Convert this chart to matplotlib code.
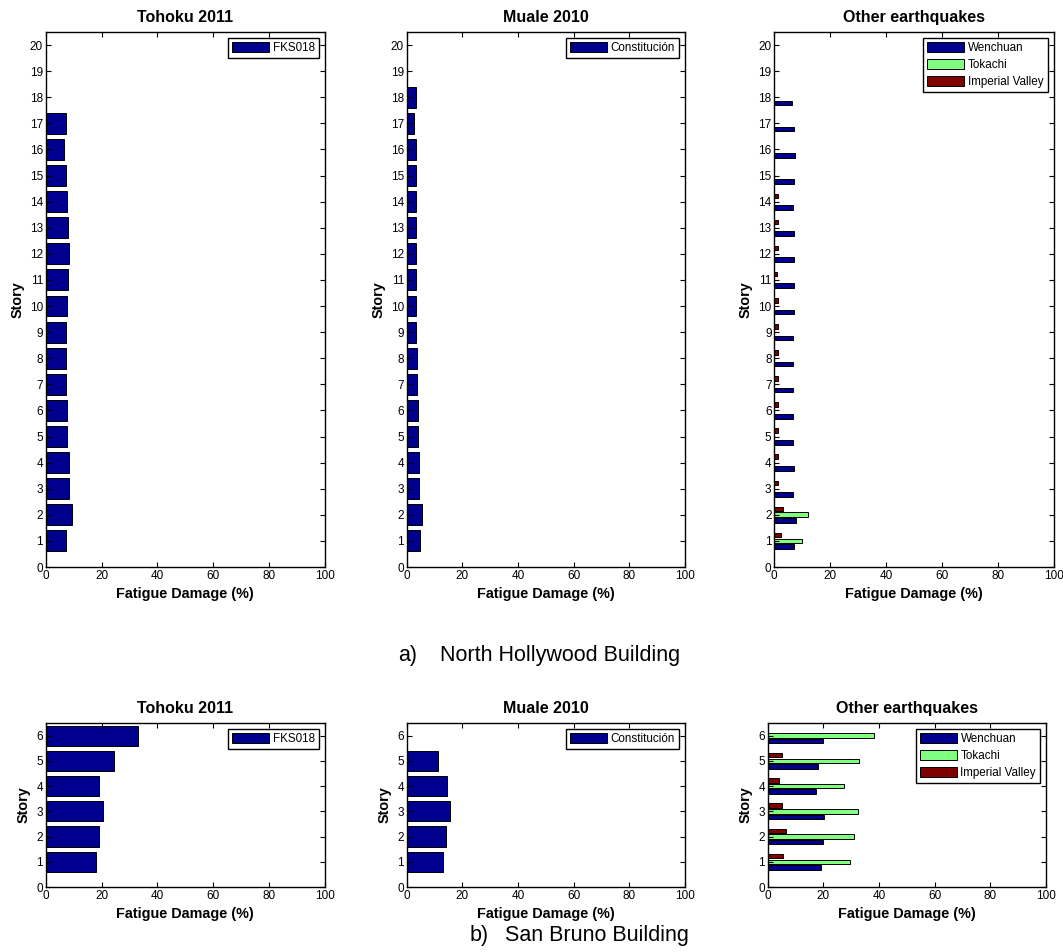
import numpy as np
import matplotlib
matplotlib.use("Agg")
import matplotlib.pyplot as plt

plt.rcParams['font.family'] = ['Liberation Sans', 'DejaVu Sans']

# fatigue damage per story (%), North Hollywood building (20 stories)
nh_stories = list(range(1, 21))
nh_tohoku = [7.4, 9.4, 8.3, 8.3, 7.7, 7.7, 7.4, 7.4, 7.4, 7.8,
             7.9, 8.3, 7.9, 7.5, 7.1, 6.7, 7.1, 0, 0, 0]
nh_maule = [4.6, 5.5, 4.3, 4.3, 4.0, 4.0, 3.6, 3.6, 3.2, 3.2,
            3.2, 3.2, 3.2, 3.2, 3.2, 3.2, 2.8, 3.2, 0, 0]
nh_wenchuan = [7.2, 7.9, 6.8, 7.2, 6.8, 6.8, 6.8, 6.8, 6.8, 6.9,
               6.9, 6.9, 6.9, 6.6, 6.9, 7.3, 6.9, 6.5, 0, 0]
nh_tokachi = [9.8, 12.1, 0, 0, 0, 0, 0, 0, 0, 0,
              0, 0, 0, 0, 0, 0, 0, 0, 0, 0]
nh_imperial = [2.3, 3.2, 1.3, 1.3, 1.3, 1.3, 1.3, 1.3, 1.3, 1.4,
               1.1, 1.3, 1.3, 1.3, 0, 0, 0, 0, 0, 0]

# San Bruno building (6 stories)
sb_stories = list(range(1, 7))
sb_tohoku = [18.1, 19.0, 20.4, 19.0, 24.6, 33.2]
sb_maule = [12.9, 14.3, 15.6, 14.6, 11.4, 0]
sb_wenchuan = [19.0, 19.8, 20.4, 17.5, 18.1, 19.8]
sb_tokachi = [29.5, 31.1, 32.3, 27.5, 32.7, 38.2]
sb_imperial = [5.5, 6.5, 5.1, 4.2, 5.1, 0]

titles = ["Tohoku 2011", "Muale 2010", "Other earthquakes"]
other_labels = ["Wenchuan", "Tokachi", "Imperial Valley"]
colors = ["#00008F", "#80FF80", "#800000"]

W, H = 1063, 952
fig = plt.figure(figsize=(W / 100, H / 100), dpi=100)


def px_axes(left, right, top, bottom):
    return fig.add_axes([left / W, 1 - bottom / H, (right - left) / W, (bottom - top) / H])


def style(ax, title, nmax):
    ax.set_xlim(0, 100)
    ax.set_ylim(0, nmax + 0.5)
    ax.set_xticks(range(0, 101, 20))
    ax.set_yticks(range(0, nmax + 1))
    ax.tick_params(direction="in", top=True, right=True, length=3.5, width=0.8,
                   labelsize=8.5, pad=2, colors="black")
    for s in ax.spines.values():
        s.set_linewidth(1.0)
    ax.set_title(title, fontsize=11.5, fontweight="bold", pad=7)
    ax.set_xlabel("Fatigue Damage (%)", fontsize=10.4, fontweight="bold", labelpad=4)
    ax.set_ylabel("Story", fontsize=10.4, fontweight="bold", labelpad=4)


def legend(ax):
    lg = ax.legend(loc="upper right", fontsize=8.4, fancybox=False, framealpha=1,
                   edgecolor="black", handlelength=3.2, handleheight=1.0,
                   borderpad=0.35, labelspacing=0.4, handletextpad=0.3,
                   borderaxespad=0.5)
    lg.get_frame().set_linewidth(1.0)


def single(ax, stories, vals, label, title, nmax):
    ax.barh(stories, vals, height=0.8, color=colors[0], edgecolor="black",
            linewidth=0.7, label=label)
    style(ax, title, nmax)
    legend(ax)


def grouped(ax, stories, series, title, nmax):
    y = np.array(stories, dtype=float)
    gw = 0.6667
    n = len(series)
    for i, (vals, lab) in enumerate(zip(series, other_labels)):
        off = -gw / 2 + (2 * i + 1) * gw / (2 * n)
        ax.barh(y + off, vals, height=gw / n * 0.8, color=colors[i],
                edgecolor="black", linewidth=0.7, label=lab)
    style(ax, title, nmax)
    legend(ax)


# top row: North Hollywood
a1 = px_axes(45.7, 325, 32, 567)
a2 = px_axes(406.7, 685, 32, 567)
a3 = px_axes(774.3, 1053.5, 32, 567)
single(a1, nh_stories, nh_tohoku, "FKS018", titles[0], 20)
single(a2, nh_stories, nh_maule, "Constitución", titles[1], 20)
grouped(a3, nh_stories, [nh_wenchuan, nh_tokachi, nh_imperial], titles[2], 20)

# bottom row: San Bruno
b1 = px_axes(45.7, 325, 723, 887)
b2 = px_axes(406.7, 685, 723, 887)
b3 = px_axes(767.7, 1046, 723, 887)
single(b1, sb_stories, sb_tohoku, "FKS018", titles[0], 6)
single(b2, sb_stories, sb_maule, "Constitución", titles[1], 6)
grouped(b3, sb_stories, [sb_wenchuan, sb_tokachi, sb_imperial], titles[2], 6)

fig.text(398 / W, 1 - 656 / H, "a)", fontsize=15.5, va="center", ha="left")
fig.text(440 / W, 1 - 656 / H, "North Hollywood Building", fontsize=15.5, va="center", ha="left")
fig.text(470 / W, 1 - 935 / H, "b)", fontsize=15.5, va="center", ha="left")
fig.text(505 / W, 1 - 935 / H, "San Bruno Building", fontsize=15.5, va="center", ha="left")

fig.savefig("out.png", dpi=100)
